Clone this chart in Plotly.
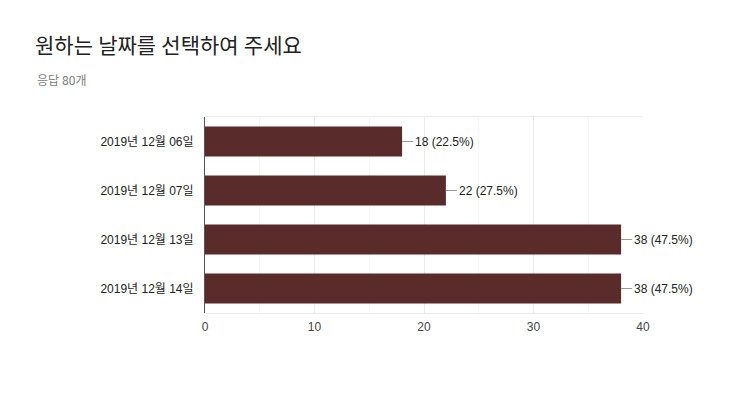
import plotly.graph_objects as go

# survey answers: chosen date and how many picked it
dates = ["2019년 12월 06일", "2019년 12월 07일", "2019년 12월 13일", "2019년 12월 14일"]
counts = [18, 22, 38, 38]
total = 80

x_ticks = [0, 10, 20, 30, 40]

bar_color = "#5a2b2b"
title_font = "Roboto, Noto Sans CJK KR, sans-serif"
label_font = "Arial, Liberation Sans, Noto Sans CJK KR, sans-serif"

# the page has an 8px body margin, so the figure is a bit smaller than the window
W, H = 732, 409

fig = go.Figure()
fig.add_trace(go.Bar(
    x=counts,
    y=dates,
    orientation="h",
    marker=dict(color=bar_color, line=dict(width=0)),
    hoverinfo="skip",
))

# value labels with a short leader line, like Google Forms does
for d, c in zip(dates, counts):
    fig.add_annotation(
        x=c, y=d, xref="x", yref="y",
        text=f"{c} ({c / total * 100:.1f}%)",
        showarrow=True, arrowhead=0, arrowwidth=1, arrowcolor="#999999",
        ax=11, ay=0, xanchor="left", standoff=0,
        font=dict(family=label_font, size=12, color="#222222"),
    )

# subtitle
fig.add_annotation(
    x=(35 - 205) / 438, y=(313 - 81) / 196, xref="paper", yref="paper",
    text=f"응답 {total}개", showarrow=False, xanchor="left", yanchor="middle",
    font=dict(family=title_font, size=12, color="#808080"),
)

fig.update_layout(
    title=dict(
        text="원하는 날짜를 선택하여 주세요",
        x=(35 - 8) / W, xref="container", xanchor="left",
        y=1 - (46 - 8) / H, yref="container", yanchor="middle",
        font=dict(family=title_font, size=21, color="#212121"),
    ),
    width=W,
    height=H,
    margin=dict(l=197, r=97, t=109, b=104),
    plot_bgcolor="white",
    paper_bgcolor="white",
    bargap=0.39,
    showlegend=False,
    font=dict(family=label_font, size=12, color="#222222"),
)

fig.update_xaxes(
    range=[0, 40],
    tickvals=x_ticks,
    showgrid=True,
    gridcolor="#ebebeb",
    minor=dict(dtick=5, showgrid=True, gridcolor="#f5f5f5"),
    showline=True, mirror=True, linecolor="#ebebeb", linewidth=1,
    zeroline=False,
    ticks="",
    ticklabelstandoff=3,
    tickfont=dict(size=12, color="#444444"),
    fixedrange=True,
)

fig.update_yaxes(
    categoryorder="array",
    categoryarray=dates[::-1],
    range=[-0.5, 3.5],
    showline=True, linecolor="#555555", linewidth=1,
    ticks="",
    ticklabelstandoff=8,
    tickfont=dict(size=12, color="#222222"),
    fixedrange=True,
)

fig.write_html("out.html")
